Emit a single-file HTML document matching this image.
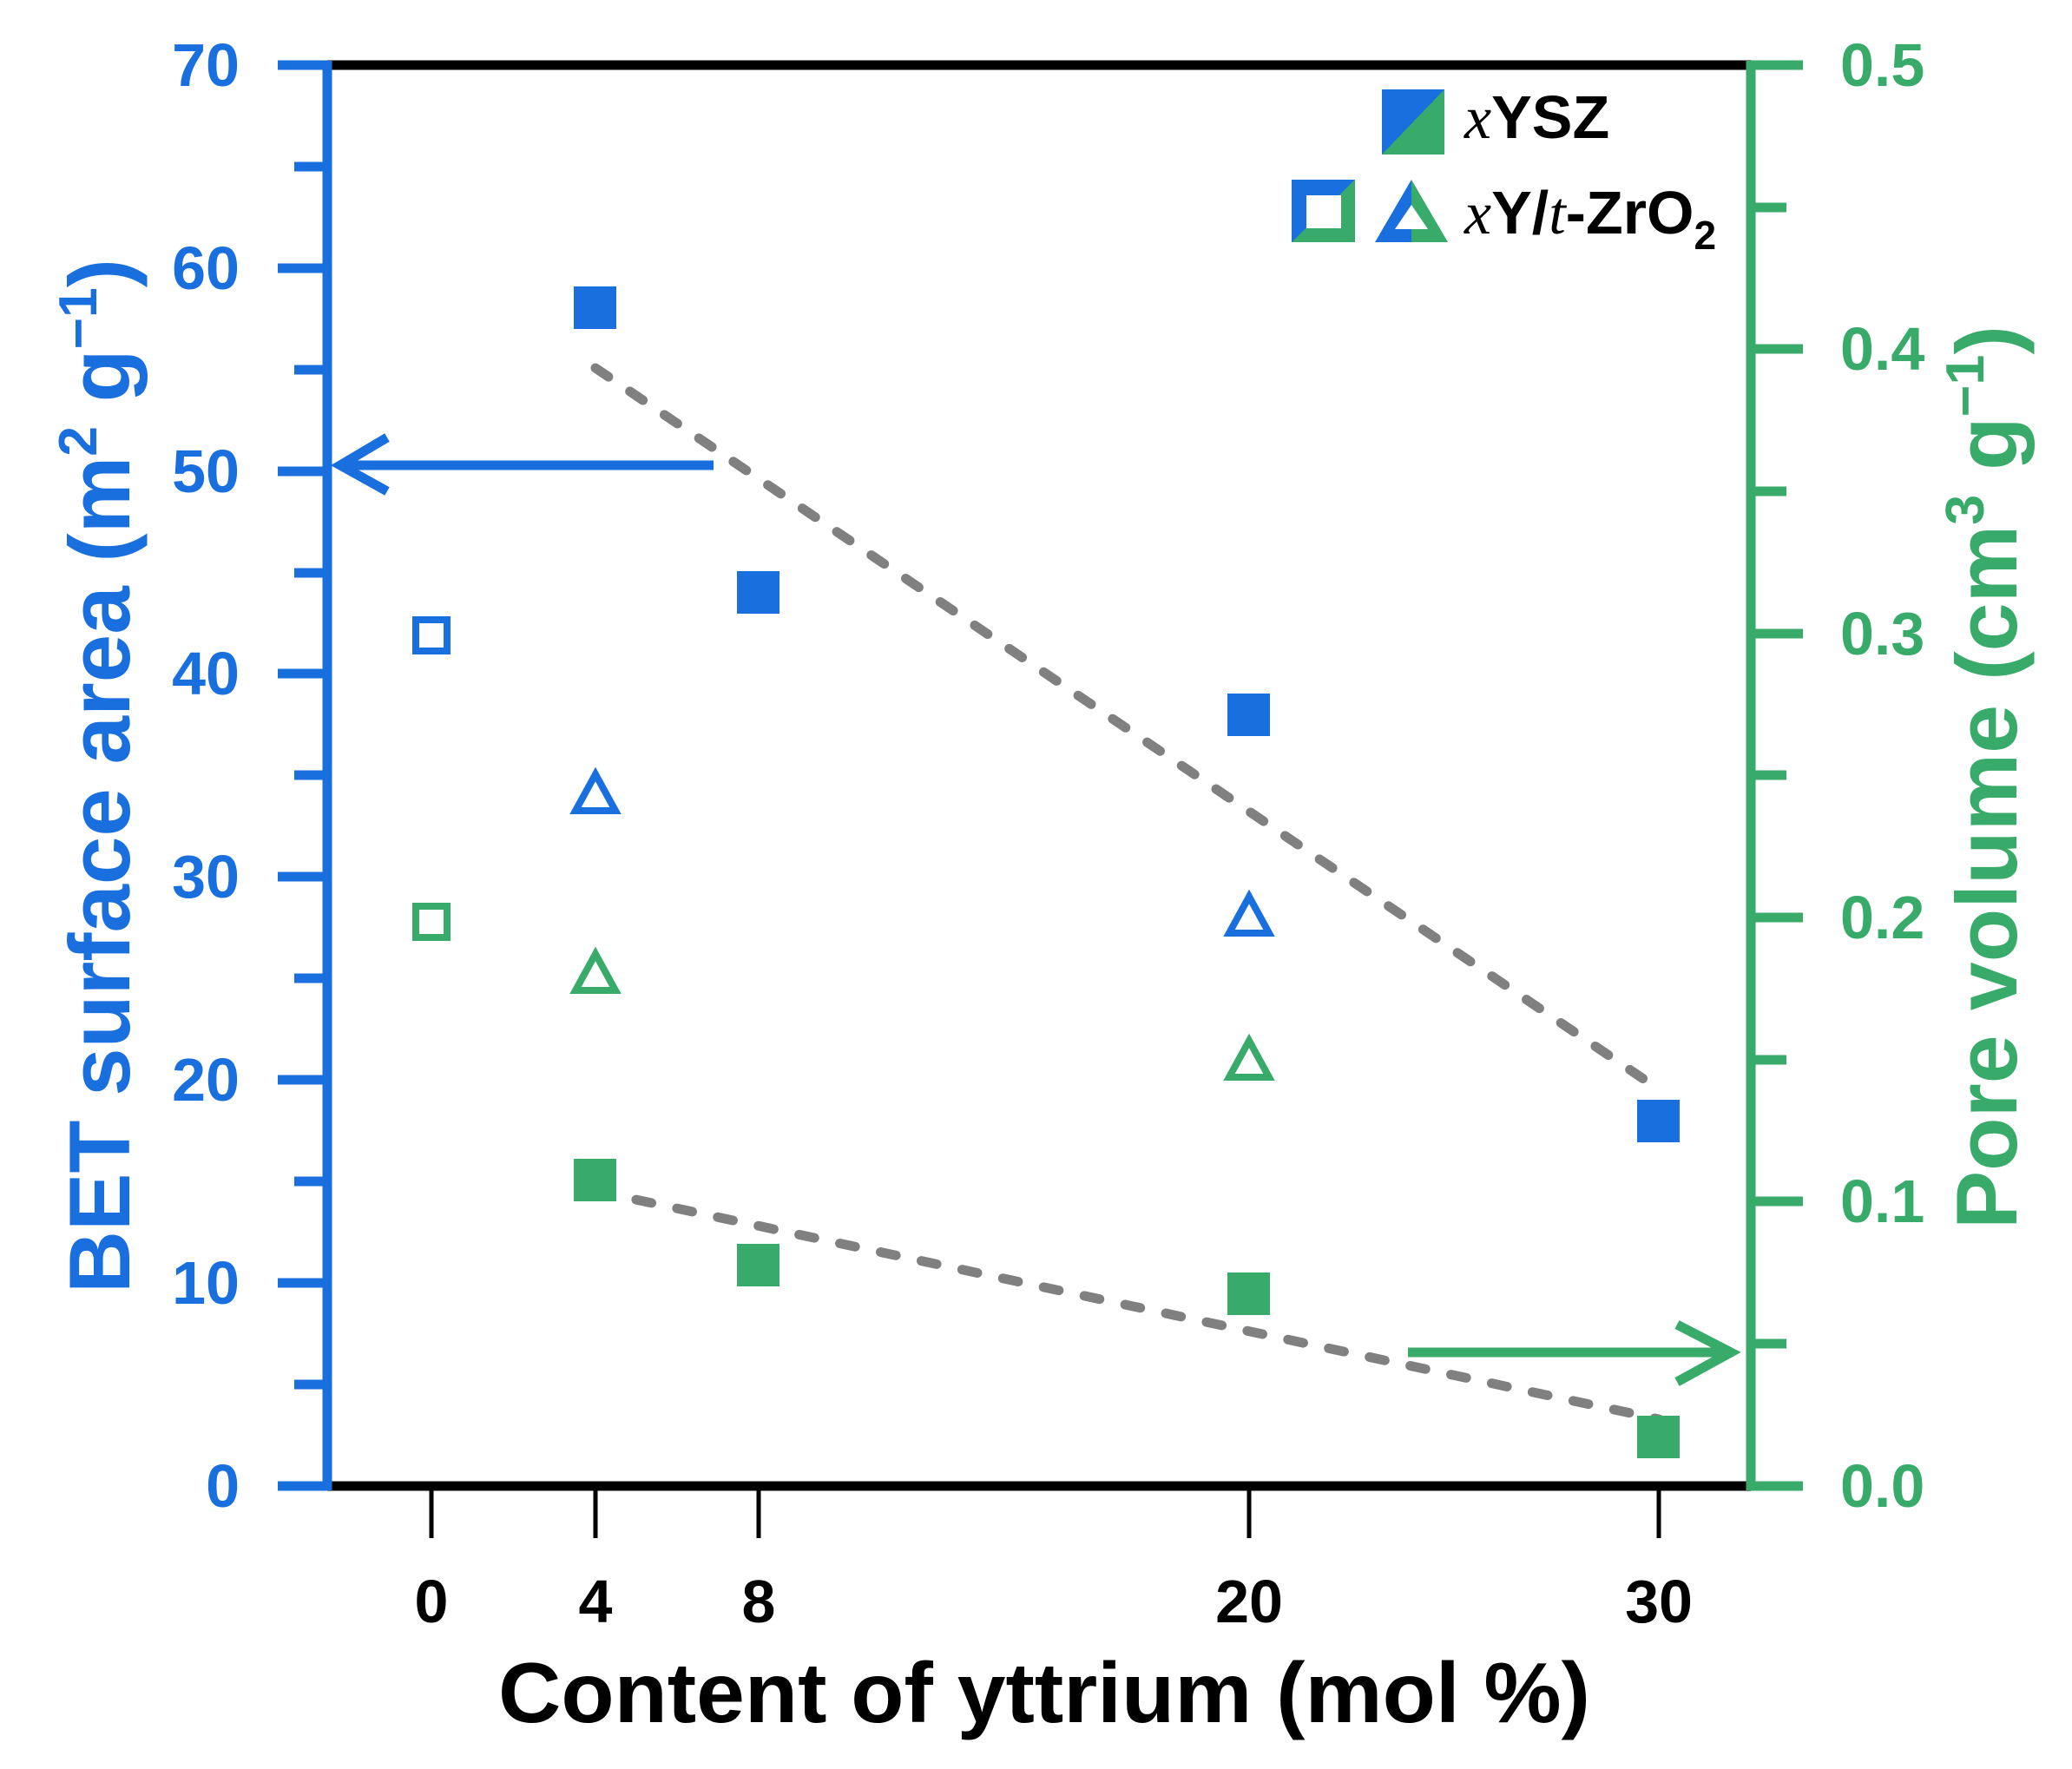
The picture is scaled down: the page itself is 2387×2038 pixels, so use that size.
<!DOCTYPE html>
<html><head><meta charset="utf-8"><style>html,body{margin:0;padding:0;background:#fff}svg{display:block}</style></head><body>
<svg width="2387" height="2038" viewBox="0 0 2387 2038" xmlns="http://www.w3.org/2000/svg" font-family="Liberation Sans, Arial, sans-serif" font-weight="bold">
<defs>
<linearGradient id="dg" x1="0" y1="0" x2="1" y2="1"><stop offset="0.5" stop-color="#1a6fdf"/><stop offset="0.5" stop-color="#38ab6a"/></linearGradient>
<linearGradient id="hg" x1="0" y1="0" x2="1" y2="0"><stop offset="0.5" stop-color="#1a6fdf"/><stop offset="0.5" stop-color="#38ab6a"/></linearGradient>
</defs>
<line x1="372" y1="75" x2="2022" y2="75" stroke="#000" stroke-width="11"/>
<line x1="372" y1="1712" x2="2022" y2="1712" stroke="#000" stroke-width="11"/>
<line x1="377" y1="70" x2="377" y2="1717" stroke="#1a6fdf" stroke-width="11"/>
<line x1="2017" y1="70" x2="2017" y2="1717" stroke="#38ab6a" stroke-width="11"/>
<g stroke="#1a6fdf" stroke-width="11">
<line x1="320" y1="75" x2="377" y2="75"/><line x1="339" y1="192" x2="377" y2="192"/>
<line x1="320" y1="309" x2="377" y2="309"/><line x1="339" y1="426" x2="377" y2="426"/>
<line x1="320" y1="543" x2="377" y2="543"/><line x1="339" y1="660" x2="377" y2="660"/>
<line x1="320" y1="776" x2="377" y2="776"/><line x1="339" y1="893" x2="377" y2="893"/>
<line x1="320" y1="1010" x2="377" y2="1010"/><line x1="339" y1="1127" x2="377" y2="1127"/>
<line x1="320" y1="1244" x2="377" y2="1244"/><line x1="339" y1="1361" x2="377" y2="1361"/>
<line x1="320" y1="1478" x2="377" y2="1478"/><line x1="339" y1="1595" x2="377" y2="1595"/>
<line x1="320" y1="1712" x2="377" y2="1712"/>
</g>
<g fill="#1a6fdf" font-size="70" text-anchor="end">
<text x="276" y="99">70</text><text x="276" y="333">60</text><text x="276" y="567">50</text>
<text x="276" y="800">40</text><text x="276" y="1034">30</text><text x="276" y="1268">20</text>
<text x="276" y="1502">10</text><text x="276" y="1736">0</text>
</g>
<g stroke="#38ab6a" stroke-width="11">
<line x1="2017" y1="75" x2="2077" y2="75"/><line x1="2017" y1="239" x2="2058" y2="239"/>
<line x1="2017" y1="402" x2="2077" y2="402"/><line x1="2017" y1="566" x2="2058" y2="566"/>
<line x1="2017" y1="730" x2="2077" y2="730"/><line x1="2017" y1="893" x2="2058" y2="893"/>
<line x1="2017" y1="1057" x2="2077" y2="1057"/><line x1="2017" y1="1221" x2="2058" y2="1221"/>
<line x1="2017" y1="1384" x2="2077" y2="1384"/><line x1="2017" y1="1548" x2="2058" y2="1548"/>
<line x1="2017" y1="1712" x2="2077" y2="1712"/>
</g>
<g fill="#38ab6a" font-size="70">
<text x="2120" y="99">0.5</text><text x="2120" y="426">0.4</text><text x="2120" y="754">0.3</text>
<text x="2120" y="1081">0.2</text><text x="2120" y="1408">0.1</text><text x="2120" y="1736">0.0</text>
</g>
<g stroke="#000" stroke-width="5">
<line x1="497" y1="1712" x2="497" y2="1772"/><line x1="686" y1="1712" x2="686" y2="1772"/>
<line x1="874" y1="1712" x2="874" y2="1772"/><line x1="1439" y1="1712" x2="1439" y2="1772"/>
<line x1="1911" y1="1712" x2="1911" y2="1772"/>
</g>
<g fill="#000" font-size="70" text-anchor="middle">
<text x="497" y="1869">0</text><text x="686" y="1869">4</text><text x="874" y="1869">8</text>
<text x="1439" y="1869">20</text><text x="1911" y="1869">30</text>
</g>
<text x="574" y="1984" font-size="98" textLength="1258" lengthAdjust="spacingAndGlyphs">Content of yttrium (mol %)</text>
<text transform="translate(149,1490) rotate(-90)" font-size="99" fill="#1a6fdf" textLength="1192" lengthAdjust="spacingAndGlyphs">BET surface area (m<tspan dy="-38" font-size="62">2</tspan><tspan dy="38"> g</tspan><tspan dy="-38" font-size="62">−1</tspan><tspan dy="38">)</tspan></text>
<text transform="translate(2323,1416) rotate(-90)" font-size="99" fill="#38ab6a" textLength="1041" lengthAdjust="spacingAndGlyphs">Pore volume (cm<tspan dy="-38" font-size="62">3</tspan><tspan dy="38"> g</tspan><tspan dy="-38" font-size="62">−1</tspan><tspan dy="38">)</tspan></text>
<g stroke="#808080" stroke-width="11" stroke-linecap="round" stroke-dasharray="18 30">
<line x1="686" y1="424" x2="1911" y2="1255"/>
<line x1="686" y1="1372" x2="1911" y2="1635"/>
</g>
<g fill="#1a6fdf">
<rect x="661" y="330" width="49" height="49"/><rect x="849" y="658" width="49" height="49"/>
<rect x="1414" y="799" width="49" height="49"/><rect x="1886" y="1267" width="49" height="49"/>
</g>
<g fill="#38ab6a">
<rect x="661" y="1335" width="49" height="49"/><rect x="849" y="1433" width="49" height="49"/>
<rect x="1414" y="1466" width="49" height="49"/><rect x="1886" y="1631" width="49" height="49"/>
</g>
<rect x="479" y="714" width="36" height="36" fill="none" stroke="#1a6fdf" stroke-width="8"/>
<rect x="479" y="1044" width="36" height="36" fill="none" stroke="#38ab6a" stroke-width="8"/>
<g fill="none" stroke-width="8" stroke-linejoin="miter">
<polygon points="686,892 663,934 709,934" stroke="#1a6fdf"/>
<polygon points="1439,1033 1416,1075 1462,1075" stroke="#1a6fdf"/>
<polygon points="686,1099 663,1141 709,1141" stroke="#38ab6a"/>
<polygon points="1439,1199 1416,1241 1462,1241" stroke="#38ab6a"/>
</g>
<g stroke="#1a6fdf" stroke-width="11" fill="none">
<line x1="822" y1="536" x2="392" y2="536"/>
<polyline points="446,504 392,536 446,566"/>
</g>
<g stroke="#38ab6a" stroke-width="11" fill="none">
<line x1="1622" y1="1558" x2="1994" y2="1558"/>
<polyline points="1932,1526 1994,1558 1932,1592"/>
</g>
<rect x="1592" y="103" width="72" height="75" fill="url(#dg)"/>
<text x="1687" y="159" font-size="70" fill="#000"><tspan font-family="Liberation Serif, serif" font-style="italic" font-weight="normal">x</tspan>YSZ</text>
<rect x="1488" y="207" width="73" height="72" fill="url(#dg)"/>
<rect x="1505" y="225" width="40" height="38" fill="#fff"/>
<polygon points="1626,207 1584,279 1668,279" fill="url(#hg)"/>
<polygon points="1626,236 1607,264 1645,264" fill="#fff"/>
<text x="1687" y="269" font-size="70" fill="#000"><tspan font-family="Liberation Serif, serif" font-style="italic" font-weight="normal">x</tspan>Y/<tspan font-family="Liberation Serif, serif" font-style="italic" font-weight="normal">t</tspan>-ZrO<tspan dy="18" font-size="46">2</tspan></text>
</svg>
</body></html>
